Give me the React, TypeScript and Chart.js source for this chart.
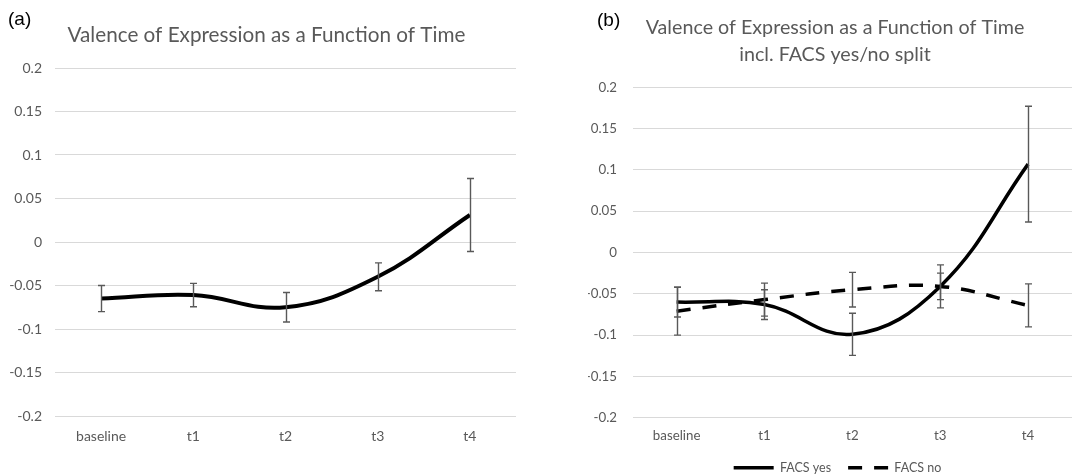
import React, { useEffect, useRef } from 'react';
import { Chart, registerables } from 'chart.js';

Chart.register(...registerables);

// ---- data ----
const categories = ['baseline', 't1', 't2', 't3', 't4'];

const overallMean = [-0.065, -0.061, -0.075, -0.040, 0.031];
const overallErr = [0.015, 0.0135, 0.017, 0.016, 0.042];

const facsYesMean = [-0.060, -0.063, -0.099, -0.041, 0.107];
const facsYesErr = [0.018, 0.018, 0.0255, 0.016, 0.070];

const facsNoMean = [-0.071, -0.057, -0.045, -0.041, -0.064];
const facsNoErr = [0.029, 0.020, 0.021, 0.026, 0.026];

const yMin = -0.2;
const yMax = 0.2;
const yStep = 0.05;

const titleA = 'Valence of Expression as a Function of Time';
const titleB = ['Valence of Expression as a Function of Time', 'incl. FACS yes/no split'];
const seriesNames = ['FACS yes', 'FACS no'];

const GRAY = '#595959';
const FONT = 'Lato';

const errorBarPlugin = {
  id: 'errorBars',
  afterDatasetsDraw(chart: any) {
    const ctx = chart.ctx;
    const xs = chart.scales.x;
    const ys = chart.scales.y;
    chart.data.datasets.forEach((ds: any) => {
      const errs: number[] | undefined = ds.errors;
      if (!errs) return;
      ctx.save();
      ctx.strokeStyle = GRAY;
      ctx.lineWidth = 1.4;
      ctx.setLineDash([]);
      ds.data.forEach((v: number, i: number) => {
        const px = Math.round(xs.getPixelForValue(i)) + 0.5;
        const top = ys.getPixelForValue(v + errs[i]);
        const bot = ys.getPixelForValue(v - errs[i]);
        ctx.beginPath();
        ctx.moveTo(px, top);
        ctx.lineTo(px, bot);
        ctx.moveTo(px - 3.5, top);
        ctx.lineTo(px + 3.5, top);
        ctx.moveTo(px - 3.5, bot);
        ctx.lineTo(px + 3.5, bot);
        ctx.stroke();
      });
      ctx.restore();
    });
  },
};

// nudges the title / legend blocks sideways after layout
const shiftBoxesPlugin = {
  id: 'shiftBoxes',
  afterLayout(chart: any, _args: any, opts: any) {
    const t = chart.titleBlock;
    if (t && opts.titleDx) {
      t.left += opts.titleDx;
      t.right += opts.titleDx;
    }
    const l = chart.legend;
    if (l && opts.legendDx) {
      l.left += opts.legendDx;
      l.right += opts.legendDx;
    }
  },
};

function makeScales(yAxisWidth: number, yPad: number, xPad: number, fontSize: number, xAxisHeight?: number) {
  return {
    x: {
      type: 'category' as const,
      offset: true,
      grid: { display: false, drawTicks: false },
      border: { display: false },
      ticks: { color: GRAY, font: { family: FONT, size: fontSize }, padding: xPad },
      afterFit: (s: any) => {
        if (xAxisHeight !== undefined) s.height = xAxisHeight;
      },
    },
    y: {
      min: yMin,
      max: yMax,
      grid: { color: '#d9d9d9', lineWidth: 1, drawTicks: false },
      border: { display: false },
      ticks: {
        stepSize: yStep,
        color: GRAY,
        font: { family: FONT, size: fontSize },
        padding: yPad,
        callback: (v: any) => String(Number(Number(v).toFixed(2))),
      },
      afterFit: (s: any) => {
        s.width = yAxisWidth;
      },
    },
  };
}

function ChartA() {
  const ref = useRef<HTMLCanvasElement>(null);
  useEffect(() => {
    const chart = new Chart(ref.current!, {
      type: 'line',
      data: {
        labels: categories,
        datasets: [
          {
            label: 'Valence',
            data: overallMean,
            errors: overallErr,
            borderColor: '#000',
            borderWidth: 4,
            tension: 0.4,
            pointRadius: 0,
            fill: false,
          } as any,
        ],
      },
      options: {
        responsive: false,
        animation: false,
        devicePixelRatio: 1,
        layout: { padding: { left: 10, right: 18, top: 0, bottom: 18 } },
        plugins: {
          legend: { display: false },
          tooltip: { enabled: false },
          shiftBoxes: { titleDx: 3.5 },
          title: {
            display: true,
            text: titleA,
            color: GRAY,
            font: { family: FONT, size: 20.7, weight: 'normal' as const, lineHeight: 1.2 },
            padding: { top: 22.6, bottom: 20.56 },
          },
        } as any,
        scales: makeScales(45, 13, 11.6, 14) as any,
      },
      plugins: [errorBarPlugin, shiftBoxesPlugin],
    });
    return () => chart.destroy();
  }, []);
  return <canvas ref={ref} width={534} height={474} style={{ width: 534, height: 474, display: 'block' }} />;
}

function ChartB() {
  const ref = useRef<HTMLCanvasElement>(null);
  useEffect(() => {
    const chart = new Chart(ref.current!, {
      type: 'line',
      data: {
        labels: categories,
        datasets: [
          {
            label: seriesNames[0],
            data: facsYesMean,
            errors: facsYesErr,
            borderColor: '#000',
            backgroundColor: '#000',
            borderWidth: 3.5,
            tension: 0.4,
            pointRadius: 0,
            pointStyle: 'line',
            fill: false,
          } as any,
          {
            label: seriesNames[1],
            data: facsNoMean,
            errors: facsNoErr,
            borderColor: '#000',
            backgroundColor: '#000',
            borderWidth: 3.5,
            borderDash: [14, 12],
            tension: 0.4,
            pointRadius: 0,
            pointStyle: 'line',
            fill: false,
          } as any,
        ],
      },
      options: {
        responsive: false,
        animation: false,
        devicePixelRatio: 1,
        layout: { padding: { left: 5, right: 19, top: 0, bottom: 0 } },
        plugins: {
          shiftBoxes: { titleDx: 5, legendDx: 7.5 },
          legend: {
            display: true,
            position: 'bottom' as const,
            labels: {
              usePointStyle: true,
              pointStyleWidth: 40,
              color: GRAY,
              font: { family: FONT, size: 12.5 },
              padding: 17,
              generateLabels: (chart: any) => {
                const items = (Chart.defaults.plugins.legend.labels as any).generateLabels(chart);
                return items.map((it: any) => ({
                  ...it,
                  lineDash: chart.data.datasets[it.datasetIndex].borderDash || [],
                  lineWidth: 3.5,
                  strokeStyle: '#000',
                  fillStyle: '#000',
                }));
              },
            },
          },
          tooltip: { enabled: false },
          title: {
            display: true,
            text: titleB,
            color: GRAY,
            font: { family: FONT, size: 19.7, weight: 'normal' as const, lineHeight: 1.37 },
            padding: { top: 14.5, bottom: 18.8 },
          },
        } as any,
        scales: makeScales(44.7, 15.7, 10, 13.3, 26.75) as any,
      },
      plugins: [errorBarPlugin, shiftBoxesPlugin],
    });
    return () => chart.destroy();
  }, []);
  return <canvas ref={ref} width={508} height={484} style={{ width: 508, height: 484, display: 'block' }} />;
}

const panelLabel: React.CSSProperties = {
  position: 'absolute',
  fontFamily: '"Liberation Sans", Arial, sans-serif',
  fontSize: 19,
  lineHeight: '20px',
  color: '#000',
};

export default function App() {
  return (
    <div
      style={{
        position: 'absolute',
        left: 0,
        top: 0,
        width: 1091,
        height: 474,
        overflow: 'hidden',
        background: '#fff',
      }}
    >
      <div style={{ position: 'absolute', left: 0, top: 0 }}>
        <ChartA />
      </div>
      <div style={{ position: 'absolute', left: 583, top: 0 }}>
        <ChartB />
      </div>
      <div style={{ ...panelLabel, left: 8, top: 9 }}>(a)</div>
      <div style={{ ...panelLabel, left: 597, top: 10 }}>(b)</div>
    </div>
  );
}
